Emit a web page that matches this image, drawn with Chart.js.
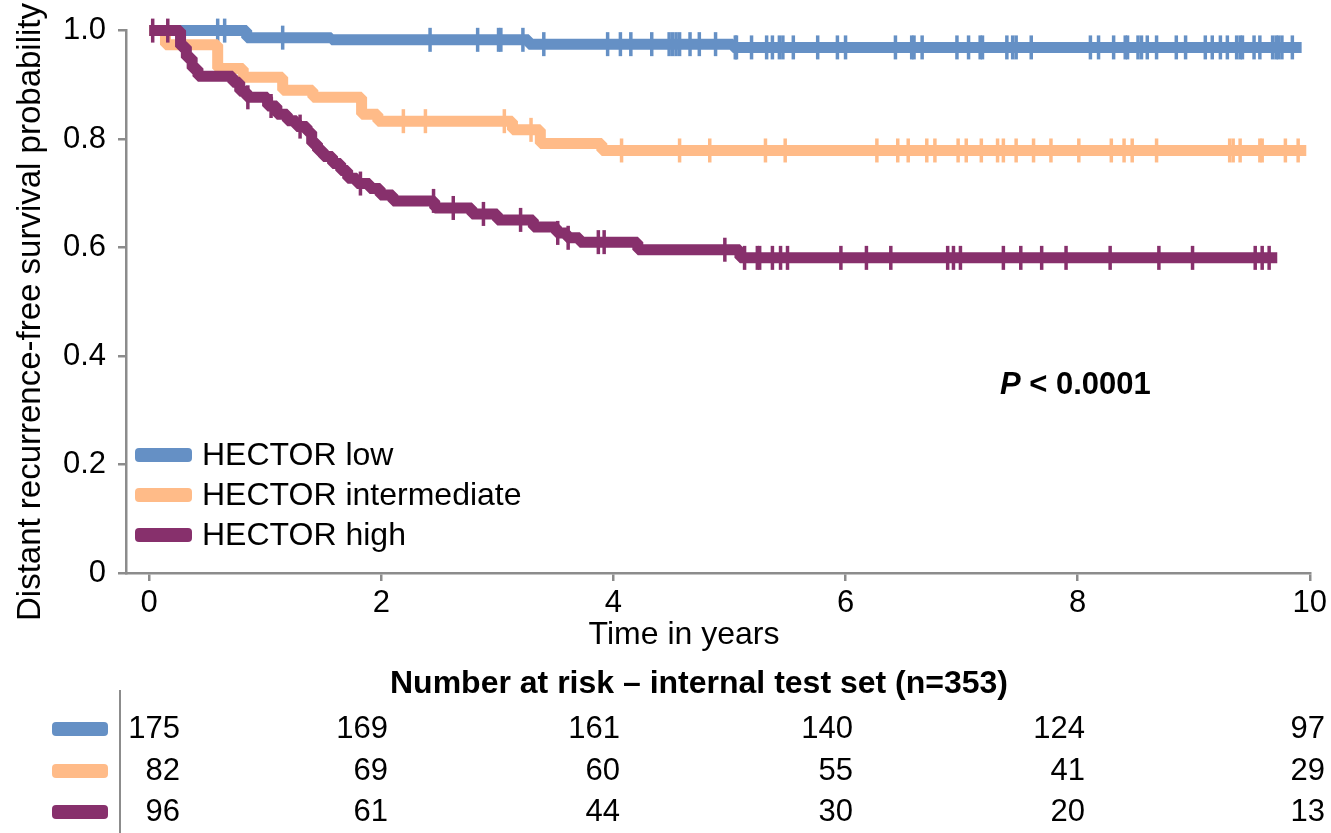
<!DOCTYPE html>
<html>
<head>
<meta charset="utf-8">
<script src="https://cdn.jsdelivr.net/npm/chart.js@4.4.1/dist/chart.umd.min.js"></script>
<style>
  html, body { margin: 0; padding: 0; background: #fff; }
  #wrap { width: 1331px; height: 833px; }
</style>
</head>
<body>
<div id="wrap"><canvas id="km" width="1331" height="833"></canvas></div>
<script>
const FONT = `"Liberation Sans", Arial, sans-serif`;
const AXIS_GRAY = `#8c8c8c`;

const groupNames = [`HECTOR low`, `HECTOR intermediate`, `HECTOR high`];
const groupColors = [`#6590c5`, `#ffbb88`, `#87306c`];

// KM steps: time in years, survival after the step
const lowTimes = [0, 0.84, 1.57, 3.27, 5.03, 9.93];
const lowSurv = [1.0, 0.987, 0.983, 0.975, 0.969, 0.969];
const lowCensored = [0.59, 0.65, 1.15, 2.42, 2.83, 3.01, 3.03, 3.22, 3.40, 3.95, 4.06, 4.15, 4.33, 4.48, 4.51, 4.54, 4.57, 4.66, 4.74, 4.88, 5.05, 5.06, 5.19, 5.32, 5.37, 5.43, 5.46, 5.55, 5.76, 5.93, 6.00, 6.43, 6.57, 6.59, 6.66, 6.96, 7.06, 7.16, 7.18, 7.39, 7.44, 7.47, 7.60, 8.11, 8.18, 8.31, 8.41, 8.43, 8.52, 8.55, 8.60, 8.68, 8.85, 8.93, 9.10, 9.16, 9.23, 9.29, 9.37, 9.40, 9.42, 9.52, 9.57, 9.68, 9.71, 9.73, 9.76, 9.85];

const intTimes = [0, 0.14, 0.59, 0.81, 1.15, 1.41, 1.83, 1.97, 3.13, 3.37, 3.90, 9.97];
const intSurv = [1.0, 0.974, 0.93, 0.914, 0.89, 0.877, 0.846, 0.833, 0.817, 0.792, 0.779, 0.779];
const intCensored = [2.19, 2.38, 3.06, 3.29, 4.07, 4.57, 4.83, 5.31, 5.48, 6.27, 6.45, 6.54, 6.70, 6.77, 6.97, 7.04, 7.17, 7.31, 7.36, 7.47, 7.62, 7.77, 8.01, 8.29, 8.40, 8.47, 8.68, 9.31, 9.34, 9.40, 9.57, 9.59, 9.79, 9.90];

const highTimes = [0, 0.27, 0.32, 0.37, 0.42, 0.72, 0.78, 0.84, 1.02, 1.10, 1.19, 1.27, 1.36, 1.40, 1.45, 1.50, 1.58, 1.65, 1.71, 1.79, 1.90, 1.99, 2.10, 2.46, 2.78, 3.00, 3.31, 3.51, 3.60, 3.71, 4.21, 5.09, 9.72];
const highSurv = [1.0, 0.97, 0.95, 0.93, 0.916, 0.905, 0.888, 0.877, 0.861, 0.846, 0.834, 0.823, 0.813, 0.792, 0.779, 0.768, 0.755, 0.742, 0.728, 0.718, 0.709, 0.697, 0.686, 0.673, 0.662, 0.651, 0.638, 0.627, 0.618, 0.610, 0.596, 0.581, 0.581];
const highCensored = [0.03, 0.16, 0.85, 1.05, 1.30, 1.82, 2.45, 2.62, 2.88, 3.20, 3.52, 3.61, 3.87, 3.92, 4.96, 5.13, 5.24, 5.26, 5.37, 5.44, 5.50, 5.96, 6.18, 6.39, 6.88, 6.93, 6.99, 7.36, 7.51, 7.69, 7.90, 8.28, 8.70, 8.99, 9.53, 9.59, 9.65];

const xTicks = [0, 2, 4, 6, 8, 10];
const yTicks = [0, 0.2, 0.4, 0.6, 0.8, 1.0];

// number at risk table
const riskLow = [175, 169, 161, 140, 124, 97];
const riskInt = [82, 69, 60, 55, 41, 29];
const riskHigh = [96, 61, 44, 30, 20, 13];

const survivalAt = (times, surv, t) => {
  let s = surv[0];
  times.forEach((time, i) => {
    if (time <= t) {
      s = surv[i];
    }
  });
  return s;
};

const curveDataset = (times, surv, color, order) => ({
  data: times.map((t, i) => ({x: t, y: surv[i]})),
  borderColor: color,
  backgroundColor: color,
  borderWidth: 11,
  stepped: `before`,
  borderJoinStyle: `bevel`,
  borderCapStyle: `butt`,
  pointRadius: 0,
  clip: false,
  order: order
});

const censorDataset = (censored, times, surv, color, order) => ({
  data: censored.map((t) => ({x: t, y: survivalAt(times, surv, t)})),
  showLine: false,
  borderColor: color,
  backgroundColor: color,
  pointStyle: `line`,
  rotation: 90,
  pointRadius: 12,
  pointBorderWidth: 3.5,
  clip: false,
  order: order
});

const extrasPlugin = {
  id: `extras`,
  afterDraw(chart) {
    const ctx = chart.ctx;
    ctx.save();
    ctx.fillStyle = `#000`;

    // y axis title
    ctx.save();
    ctx.translate(31, 312);
    ctx.rotate(-Math.PI / 2);
    ctx.font = `33px ${FONT}`;
    ctx.textAlign = `center`;
    ctx.textBaseline = `middle`;
    ctx.fillText(`Distant recurrence-free survival probability`, 0, 0);
    ctx.restore();

    // x axis title
    ctx.font = `32px ${FONT}`;
    ctx.textAlign = `center`;
    ctx.textBaseline = `middle`;
    ctx.fillText(`Time in years`, 684, 635);

    // legend inside plot
    const legendRows = [455, 495, 535];
    groupNames.forEach((name, i) => {
      ctx.fillStyle = groupColors[i];
      ctx.beginPath();
      ctx.roundRect(135, legendRows[i] - 7, 57, 14, 4);
      ctx.fill();
      ctx.fillStyle = `#000`;
      ctx.font = `32px ${FONT}`;
      ctx.textAlign = `left`;
      ctx.fillText(name, 202, legendRows[i] + 1);
    });

    // p value
    ctx.font = `italic bold 31px ${FONT}`;
    ctx.textAlign = `left`;
    ctx.fillText(`P`, 1000, 385);
    const pw = ctx.measureText(`P`).width;
    ctx.font = `bold 31px ${FONT}`;
    ctx.fillText(` < 0.0001`, 1000 + pw, 385);

    // number at risk
    ctx.font = `bold 32px ${FONT}`;
    ctx.textAlign = `center`;
    ctx.fillText(`Number at risk \u2013 internal test set (n=353)`, 699, 684);

    ctx.strokeStyle = AXIS_GRAY;
    ctx.lineWidth = 2;
    ctx.beginPath();
    ctx.moveTo(120, 690);
    ctx.lineTo(120, 833);
    ctx.stroke();

    const rowY = [729, 771, 812];
    const colRight = [180, 388, 620, 853, 1085, 1325];
    [riskLow, riskInt, riskHigh].forEach((row, i) => {
      ctx.fillStyle = groupColors[i];
      ctx.beginPath();
      ctx.roundRect(52, rowY[i] - 7, 56, 14, 4);
      ctx.fill();
      ctx.fillStyle = `#000`;
      ctx.font = `31px ${FONT}`;
      ctx.textAlign = `right`;
      row.forEach((n, j) => {
        ctx.fillText(String(n), colRight[j], rowY[i]);
      });
    });

    ctx.restore();
  }
};

const axisStyle = {
  border: {display: true, color: AXIS_GRAY, width: 2.5},
  grid: {drawOnChartArea: false, drawTicks: true, tickLength: 8, color: AXIS_GRAY, lineWidth: 2.5}
};

new Chart(document.getElementById(`km`), {
  type: `line`,
  data: {
    datasets: [
      curveDataset(highTimes, highSurv, groupColors[2], 0),
      censorDataset(highCensored, highTimes, highSurv, groupColors[2], 0),
      curveDataset(intTimes, intSurv, groupColors[1], 1),
      censorDataset(intCensored, intTimes, intSurv, groupColors[1], 1),
      curveDataset(lowTimes, lowSurv, groupColors[0], 2),
      censorDataset(lowCensored, lowTimes, lowSurv, groupColors[0], 2)
    ]
  },
  options: {
    responsive: false,
    animation: false,
    devicePixelRatio: 1,
    layout: {padding: {left: 0, top: 26, right: 21, bottom: 200}},
    plugins: {legend: {display: false}, tooltip: {enabled: false}},
    scales: {
      x: {
        type: `linear`,
        min: -0.2,
        max: 10,
        ...axisStyle,
        afterBuildTicks: (scale) => {
          scale.ticks = xTicks.map((v) => ({value: v}));
        },
        afterFit: (scale) => {
          scale.height = 60;
        },
        ticks: {
          color: `#000`,
          padding: 4,
          font: {family: FONT, size: 31},
          callback: (v) => String(v)
        }
      },
      y: {
        type: `linear`,
        min: 0,
        max: 1,
        ...axisStyle,
        afterBuildTicks: (scale) => {
          scale.ticks = yTicks.map((v) => ({value: v}));
        },
        afterFit: (scale) => {
          scale.width = 126;
        },
        ticks: {
          color: `#000`,
          padding: 12,
          font: {family: FONT, size: 31},
          callback: (v) => (v === 0 ? `0` : v.toFixed(1))
        }
      }
    }
  },
  plugins: [extrasPlugin]
});
</script>
</body>
</html>
